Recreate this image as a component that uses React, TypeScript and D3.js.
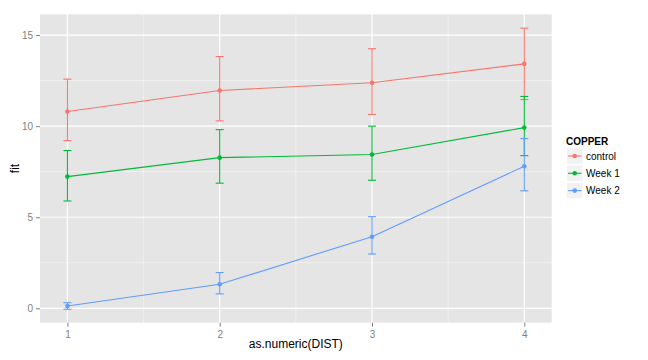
import React, { useEffect, useRef } from 'react';
import * as d3 from 'd3';

const dist = [1, 2, 3, 4];
const groups = ['control', 'Week 1', 'Week 2'];
const colors = ['#F8766D', '#00BA38', '#619CFF'];
const fitControl = [10.8, 11.96, 12.38, 13.42];
const upperControl = [12.58, 13.82, 14.25, 15.38];
const lowerControl = [9.21, 10.29, 10.64, 11.46];
const fitWeek1 = [7.23, 8.27, 8.44, 9.92];
const upperWeek1 = [8.66, 9.81, 10.0, 11.63];
const lowerWeek1 = [5.89, 6.87, 7.03, 8.38];
const fitWeek2 = [0.13, 1.32, 3.93, 7.8];
const upperWeek2 = [0.31, 1.96, 5.03, 9.32];
const lowerWeek2 = [-0.05, 0.79, 2.98, 6.45];
const yTicks = [0, 5, 10, 15];
const yMinor = [2.5, 7.5, 12.5];
const xMinor = [1.5, 2.5, 3.5];

const fits = [fitControl, fitWeek1, fitWeek2];
const uppers = [upperControl, upperWeek1, upperWeek2];
const lowers = [lowerControl, lowerWeek1, lowerWeek2];

const App: React.FC = () => {
  const ref = useRef<SVGSVGElement>(null);

  useEffect(() => {
    if (!ref.current) return;
    const svg = d3.select(ref.current);
    svg.selectAll('*').remove();

    const left = 40, right = 551.7, top = 14.3, bottom = 322.7;
    const x = d3.scaleLinear().domain([0.82, 4.18]).range([left, right]);
    const y = d3.scaleLinear().domain([-0.79, 16.14]).range([bottom, top]);
    const font = 'Liberation Sans, Arial, sans-serif';

    // panel
    svg.append('rect')
      .attr('x', left).attr('y', top)
      .attr('width', right - left).attr('height', bottom - top)
      .attr('fill', '#E5E5E5');

    const grid = svg.append('g');
    grid.selectAll('.ymin').data(yMinor).enter().append('line')
      .attr('x1', left).attr('x2', right)
      .attr('y1', d => y(d)).attr('y2', d => y(d))
      .attr('stroke', '#F2F2F2').attr('stroke-width', 0.8);
    grid.selectAll('.xmin').data(xMinor).enter().append('line')
      .attr('y1', top).attr('y2', bottom)
      .attr('x1', d => x(d)).attr('x2', d => x(d))
      .attr('stroke', '#F2F2F2').attr('stroke-width', 0.8);
    grid.selectAll('.ymaj').data(yTicks).enter().append('line')
      .attr('x1', left).attr('x2', right)
      .attr('y1', d => y(d)).attr('y2', d => y(d))
      .attr('stroke', '#FFFFFF').attr('stroke-width', 1.2);
    grid.selectAll('.xmaj').data(dist).enter().append('line')
      .attr('y1', top).attr('y2', bottom)
      .attr('x1', d => x(d)).attr('x2', d => x(d))
      .attr('stroke', '#FFFFFF').attr('stroke-width', 1.2);

    // axes
    const yAxis = svg.append('g')
      .attr('transform', `translate(${left},0)`)
      .call(d3.axisLeft(y).tickValues(yTicks).tickSize(4).tickPadding(3));
    const xAxis = svg.append('g')
      .attr('transform', `translate(0,${bottom})`)
      .call(d3.axisBottom(x).tickValues(dist).tickSize(4).tickPadding(4).tickFormat(d3.format('d')));
    [xAxis, yAxis].forEach(a => {
      a.select('.domain').remove();
      a.selectAll('line').attr('stroke', '#7F7F7F');
      a.selectAll('text').attr('fill', '#7F7F7F')
        .style('font-family', font).style('font-size', '10px');
    });

    // series
    const line = d3.line<number>().x((_, i) => x(dist[i])).y(d => y(d));
    groups.forEach((g, k) => {
      const c = colors[k];
      const sg = svg.append('g');
      dist.forEach((dv, i) => {
        const cx = x(dv);
        sg.append('line')
          .attr('x1', cx).attr('x2', cx)
          .attr('y1', y(uppers[k][i])).attr('y2', y(lowers[k][i]))
          .attr('stroke', c).attr('stroke-width', 1.1);
        [uppers[k][i], lowers[k][i]].forEach(v => {
          sg.append('line')
            .attr('x1', cx - 4).attr('x2', cx + 4)
            .attr('y1', y(v)).attr('y2', y(v))
            .attr('stroke', c).attr('stroke-width', 1.1);
        });
      });
      sg.append('path').datum(fits[k])
        .attr('d', line)
        .attr('fill', 'none').attr('stroke', c).attr('stroke-width', 1.1);
      sg.selectAll('circle').data(fits[k]).enter().append('circle')
        .attr('cx', (_, i) => x(dist[i])).attr('cy', d => y(d))
        .attr('r', 2.3).attr('fill', c);
    });

    // axis titles
    svg.append('text')
      .attr('x', (left + right) / 2).attr('y', 348)
      .attr('text-anchor', 'middle')
      .style('font-family', font).style('font-size', '12px')
      .text('as.numeric(DIST)');
    svg.append('text')
      .attr('transform', `translate(19,${(top + bottom) / 2}) rotate(-90)`)
      .attr('text-anchor', 'middle')
      .style('font-family', font).style('font-size', '12px')
      .text('fit');

    // legend
    const lg = svg.append('g');
    lg.append('text')
      .attr('x', 566).attr('y', 144.5)
      .style('font-family', font).style('font-size', '10px').style('font-weight', 'bold')
      .text('COPPER');
    groups.forEach((g, k) => {
      const cy = 156 + k * 17.3;
      lg.append('rect')
        .attr('x', 566.5).attr('y', cy - 8.2)
        .attr('width', 16.5).attr('height', 16.5)
        .attr('fill', '#F2F2F2').attr('stroke', '#FFFFFF').attr('stroke-width', 0.8);
      lg.append('line')
        .attr('x1', 568).attr('x2', 581.5)
        .attr('y1', cy).attr('y2', cy)
        .attr('stroke', colors[k]).attr('stroke-width', 1.1);
      lg.append('circle')
        .attr('cx', 574.75).attr('cy', cy).attr('r', 2.3)
        .attr('fill', colors[k]);
      lg.append('text')
        .attr('x', 586).attr('y', cy + 3.5)
        .style('font-family', font).style('font-size', '10px')
        .text(g);
    });
  }, []);

  return (
    <svg ref={ref} width={648} height={360}
      style={{ position: 'absolute', left: 0, top: 0, background: '#FFFFFF' }} />
  );
};

export default App;
